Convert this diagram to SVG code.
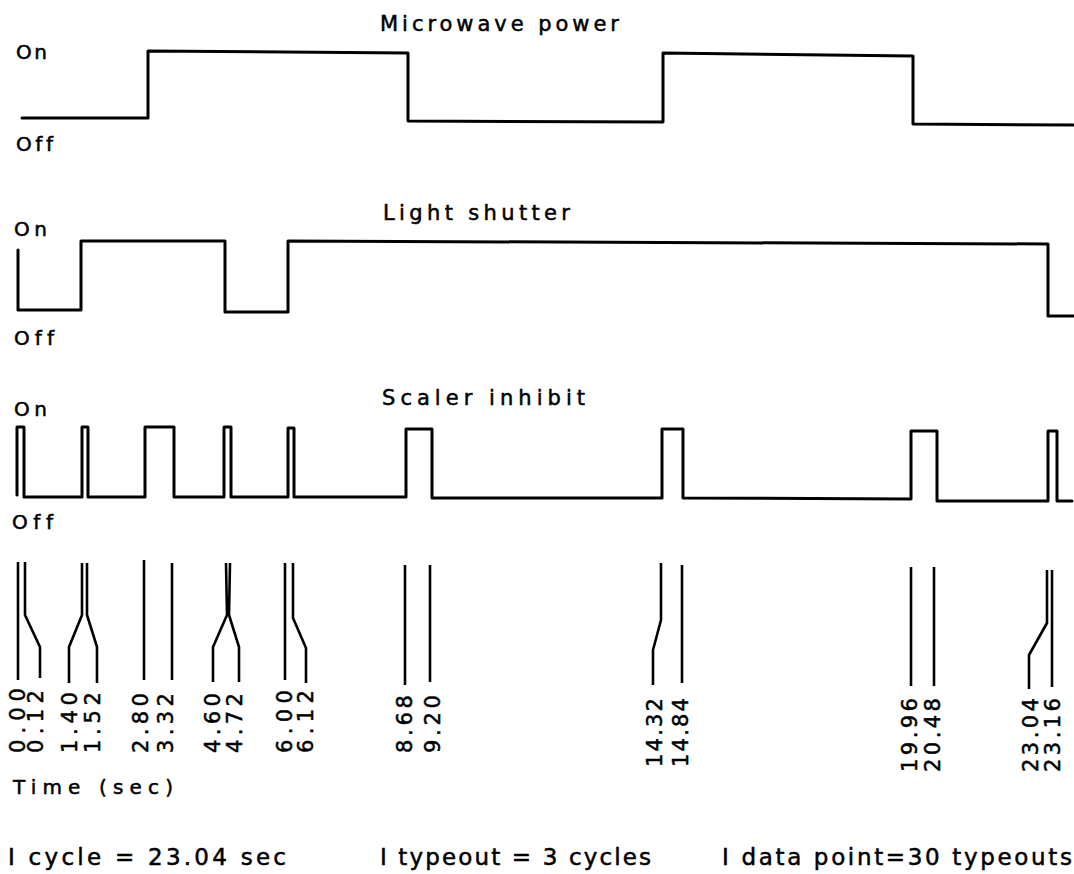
<svg xmlns="http://www.w3.org/2000/svg" width="1074" height="874" viewBox="0 0 1074 874">
<style>
.w{fill:none;stroke:#000;stroke-width:3;stroke-linejoin:round;stroke-linecap:round}
.t{fill:none;stroke:#000;stroke-width:2.6;stroke-linecap:butt;stroke-linejoin:round}
text{font-family:"DejaVu Sans","Liberation Sans",Arial,sans-serif;fill:#000;stroke:#000;stroke-width:0.5;font-variant-ligatures:none;font-feature-settings:"liga" 0,"clig" 0}
.ti{font-size:21px}
.lb{font-size:20px}
.nm{font-size:21px}
.bt{font-size:23px}
</style>
<rect width="1074" height="874" fill="#fff"/>

<g id="microwave">
<text class="ti" x="380" y="31" textLength="239" lengthAdjust="spacing">Microwave power</text>
<text class="lb" x="16" y="59" textLength="31" lengthAdjust="spacing">On</text>
<text class="lb" x="16" y="151" textLength="37" lengthAdjust="spacing">Off</text>
<path class="w" d="M22,118 L148,118 L148,51 L408,53 L408,121 L663,122 L663,53 L913,56 L913,124 L1074,125"/>
</g>

<g id="shutter">
<text class="ti" x="383" y="220" textLength="187" lengthAdjust="spacing">Light shutter</text>
<text class="lb" x="14" y="236" textLength="33" lengthAdjust="spacing">On</text>
<text class="lb" x="14" y="345" textLength="40" lengthAdjust="spacing">Off</text>
<path class="w" d="M18,250 L18,310 L81,310 L81,241 L225,241 L225,312 L288,312 L288,241 L1048,244 L1048,316 L1074,316"/>
</g>

<g id="scaler">
<text class="ti" x="382" y="405" textLength="203" lengthAdjust="spacing">Scaler inhibit</text>
<text class="lb" x="14" y="416" textLength="33" lengthAdjust="spacing">On</text>
<text class="lb" x="12" y="529" textLength="41" lengthAdjust="spacing">Off</text>
<path class="w" d="M17,495 L17,427 L24,427 L24,497 L82,497 L82,427 L88,427 L88,497 L145,497 L145,427 L174,427 L174,497 L224,497 L224,427 L231,427 L231,497 L288,497 L288,428 L294,428 L294,497 L406,497 L406,429 L432,429 L432,498 L662,498 L662,429 L683,429 L683,498 L911,499 L911,431 L937,431 L937,501 L1048,501 L1048,431 L1057,431 L1057,501 L1072,501"/>
</g>

<g id="connectors">
<path class="t" d="M18,562 L18,680"/>
<path class="t" d="M25,562 L25,615 L40,647 L40,678"/>
<path class="t" d="M82,563 L82,615 L69,647 L69,683"/>
<path class="t" d="M87,563 L87,615 L97,647 L97,683"/>
<path class="t" d="M144,560 L144,680"/>
<path class="t" d="M172,563 L172,680"/>
<path class="t" d="M226,563 L227,615 L213,647 L213,682"/>
<path class="t" d="M230,563 L229,615 L239,647 L239,682"/>
<path class="t" d="M285,563 L285,680"/>
<path class="t" d="M293,563 L293,618 L306,648 L306,683"/>
<path class="t" d="M405,565 L405,685"/>
<path class="t" d="M430,565 L430,682"/>
<path class="t" d="M661,563 L661,620 L653,650 L653,685"/>
<path class="t" d="M682,565 L682,683"/>
<path class="t" d="M911,567 L911,686"/>
<path class="t" d="M934,567 L934,686"/>
<path class="t" d="M1047,570 L1047,623 L1029,655 L1029,689"/>
<path class="t" d="M1052,570 L1052,687"/>
</g>

<g id="tick-labels">
<text class="nm" transform="translate(25,753) rotate(-90)" textLength="65" lengthAdjust="spacing">0.00</text>
<text class="nm" transform="translate(43,753) rotate(-90)" textLength="63" lengthAdjust="spacing">0.12</text>
<text class="nm" transform="translate(77,753) rotate(-90)" textLength="61" lengthAdjust="spacing">1.40</text>
<text class="nm" transform="translate(100,753) rotate(-90)" textLength="61" lengthAdjust="spacing">1.52</text>
<text class="nm" transform="translate(148,753) rotate(-90)" textLength="60" lengthAdjust="spacing">2.80</text>
<text class="nm" transform="translate(173,753) rotate(-90)" textLength="60" lengthAdjust="spacing">3.32</text>
<text class="nm" transform="translate(220,753) rotate(-90)" textLength="60" lengthAdjust="spacing">4.60</text>
<text class="nm" transform="translate(242,753) rotate(-90)" textLength="60" lengthAdjust="spacing">4.72</text>
<text class="nm" transform="translate(292,753) rotate(-90)" textLength="63" lengthAdjust="spacing">6.00</text>
<text class="nm" transform="translate(313,753) rotate(-90)" textLength="63" lengthAdjust="spacing">6.12</text>
<text class="nm" transform="translate(412,753) rotate(-90)" textLength="58" lengthAdjust="spacing">8.68</text>
<text class="nm" transform="translate(440,753) rotate(-90)" textLength="58" lengthAdjust="spacing">9.20</text>
<text class="nm" transform="translate(662,767) rotate(-90)" textLength="69" lengthAdjust="spacing">14.32</text>
<text class="nm" transform="translate(688,767) rotate(-90)" textLength="69" lengthAdjust="spacing">14.84</text>
<text class="nm" transform="translate(917,772) rotate(-90)" textLength="74" lengthAdjust="spacing">19.96</text>
<text class="nm" transform="translate(940,772) rotate(-90)" textLength="74" lengthAdjust="spacing">20.48</text>
<text class="nm" transform="translate(1038,772) rotate(-90)" textLength="74" lengthAdjust="spacing">23.04</text>
<text class="nm" transform="translate(1060,772) rotate(-90)" textLength="74" lengthAdjust="spacing">23.16</text>
<text class="lb" x="13" y="794" textLength="160" lengthAdjust="spacing">Time (sec)</text>
</g>

<g id="footer">
<text class="bt" x="8" y="865" textLength="278" lengthAdjust="spacing">I cycle = 23.04 sec</text>
<text class="bt" x="380" y="865" textLength="271" lengthAdjust="spacing">I typeout = 3 cycles</text>
<text class="bt" x="722" y="865" textLength="350" lengthAdjust="spacing">I data point=30 typeouts</text>
</g>
</svg>
